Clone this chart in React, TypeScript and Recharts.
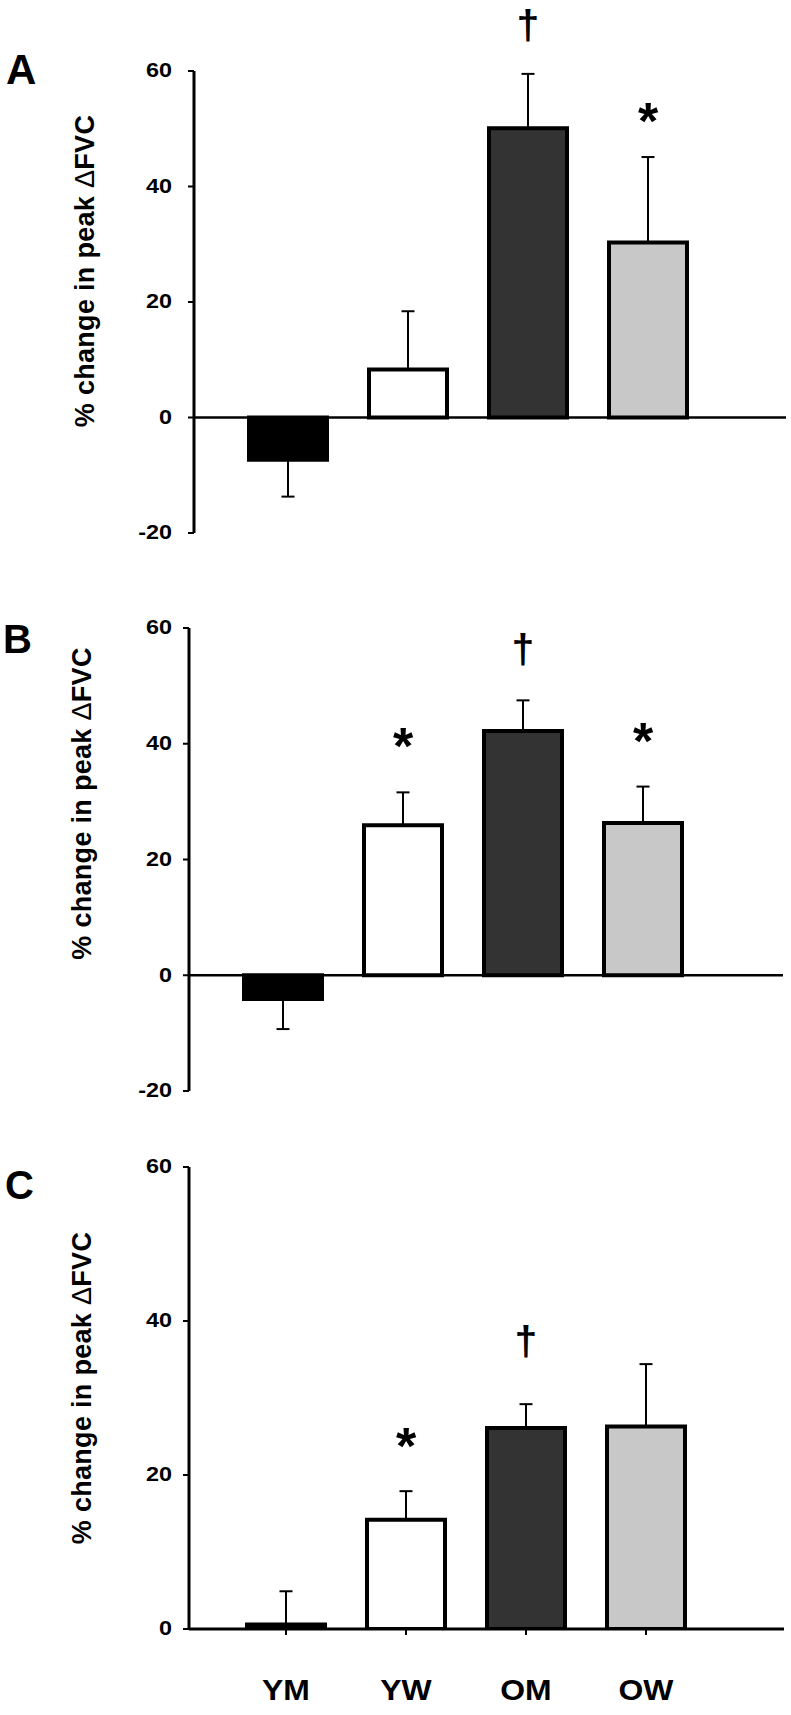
import React from 'react';
import {
  ComposedChart,
  Bar,
  Cell,
  Line,
  XAxis,
  YAxis,
  ErrorBar,
  LabelList,
  ReferenceLine,
} from 'recharts';

const FONT = '"Liberation Sans", Arial, Helvetica, sans-serif';

// groups and fills shared by all three panels
const groups = ['YM', 'YW', 'OM', 'OW'];
const fills = ['#000000', '#ffffff', '#333333', '#c8c8c8'];

// panel A
const meanA = [-7.3, 8.3, 50.1, 30.3];
const errA = [6.4, 10.1, 9.4, 14.8];
const sigA = ['', '', '†', '*'];

// panel B
const meanB = [-4.1, 25.9, 42.2, 26.3];
const errB = [5.2, 5.7, 5.3, 6.3];
const sigB = ['', '*', '†', '*'];

// panel C
const meanC = [0.6, 14.2, 26.1, 26.3];
const errC = [4.3, 3.7, 3.1, 8.1];
const sigC = ['', '*', '†', ''];

const ticksAB = [-20, 0, 20, 40, 60];
const ticksC = [0, 20, 40, 60];

const buildRows = (mean: number[], err: number[], sig: string[]) =>
  groups.map((g, i) => ({
    group: g,
    mean: mean[i],
    // one-sided error bars, pointing away from zero
    err: mean[i] < 0 ? [err[i], 0] : [0, err[i]],
    top: mean[i] < 0 ? null : mean[i] + err[i],
    sig: sig[i],
  }));

const YTick = (props: any) => {
  const { x, y, payload } = props;
  return (
    <text
      transform={`translate(${x},${y}) scale(1.2,1)`}
      textAnchor="end"
      dominantBaseline="central"
      fontSize={19.5}
      fontWeight={700}
      fontFamily={FONT}
      fill="#000"
    >
      {payload.value}
    </text>
  );
};

const XTick = (props: any) => {
  const { x, y, payload } = props;
  return (
    <text
      transform={`translate(${x},${y + 9}) scale(1.1,1)`}
      textAnchor="middle"
      dy="0.72em"
      fontSize={29}
      fontWeight={700}
      fontFamily={FONT}
      fill="#000"
    >
      {payload.value}
    </text>
  );
};

// significance marks sit a fixed gap above the error bar tip
const markContent = (gapDagger: number, gapStar: number) => (props: any) => {
  const { x, y, value } = props;
  if (!value || y == null) return null;
  const dagger = value === '†';
  const size = dagger ? 41 : 52;
  const cy = y - (dagger ? gapDagger : gapStar);
  const base = dagger ? cy + 0.3 * size : cy + 0.56 * size;
  return (
    <text x={x} y={base} textAnchor="middle" fontSize={size} fontWeight={700} fontFamily={FONT} fill="#000">
      {value}
    </text>
  );
};

const yLabel = (bx: number, shift: number) => (props: any) => {
  const { viewBox } = props;
  const cy = viewBox.y + viewBox.height / 2 + shift;
  return (
    <text
      x={bx}
      y={cy}
      transform={`rotate(-90, ${bx}, ${cy})`}
      textAnchor="middle"
      fontSize={27}
      letterSpacing={0.3}
      fontWeight={700}
      fontFamily={FONT}
      fill="#000"
    >
      % change in peak <tspan fontWeight={400}>Δ</tspan>FVC
    </text>
  );
};

interface PanelProps {
  rows: ReturnType<typeof buildRows>;
  top: number;
  height: number;
  margin: { top: number; right: number; bottom: number; left: number };
  axisWidth: number;
  padding: { left: number; right: number };
  domain: [number, number];
  ticks: number[];
  tickMargin: number;
  showX: boolean;
  xHeight?: number;
  labelX: number;
  labelShift: number;
  gapDagger: number;
  gapStar: number;
}

const Panel: React.FC<PanelProps> = (p) => (
  <div style={{ position: 'absolute', left: 0, top: p.top }}>
    <ComposedChart width={791} height={p.height} data={p.rows} margin={p.margin}>
      <XAxis
        dataKey="group"
        type="category"
        hide={!p.showX}
        height={p.xHeight ?? 30}
        padding={p.padding}
        interval={0}
        axisLine={{ stroke: '#000', strokeWidth: 3 }}
        tickLine={{ stroke: '#000', strokeWidth: 2 }}
        tickSize={6}
        tickMargin={35}
        tick={XTick}
      />
      <YAxis
        type="number"
        domain={p.domain}
        ticks={p.ticks}
        allowDataOverflow
        interval={0}
        width={p.axisWidth}
        axisLine={{ stroke: '#000', strokeWidth: 3 }}
        tickLine={{ stroke: '#000', strokeWidth: 2 }}
        tickSize={6}
        tickMargin={p.tickMargin}
        tick={YTick}
        label={yLabel(p.labelX, p.labelShift)}
      />
      {!p.showX && <ReferenceLine y={0} stroke="#000" strokeWidth={2.5} />}
      <Bar dataKey="mean" barSize={78} stroke="#000" strokeWidth={4} isAnimationActive={false}>
        {p.rows.map((r, i) => (
          <Cell key={r.group} fill={fills[i]} />
        ))}
        <ErrorBar dataKey="err" direction="y" width={6.5} stroke="#000" strokeWidth={2} />
      </Bar>
      <Line
        dataKey="top"
        stroke="none"
        dot={false}
        activeDot={false}
        isAnimationActive={false}
        legendType="none"
      >
        <LabelList dataKey="sig" content={markContent(p.gapDagger, p.gapStar)} />
      </Line>
    </ComposedChart>
  </div>
);

export default function App() {
  const rowsA = buildRows(meanA, errA, sigA);
  const rowsB = buildRows(meanB, errB, sigB);
  const rowsC = buildRows(meanC, errC, sigC);

  const letterStyle = { fontWeight: 700, fontFamily: FONT } as const;

  return (
    <div style={{ position: 'relative', width: 791, height: 1715, background: '#fff', overflow: 'hidden' }}>
      <style>{'body{margin:0}'}</style>
      <Panel
        rows={rowsA}
        top={0}
        height={560}
        margin={{ top: 71, right: 5, bottom: 27, left: 0 }}
        axisWidth={194}
        padding={{ left: 34, right: 78 }}
        domain={[-20, 60]}
        ticks={ticksAB}
        tickMargin={16}
        showX={false}
        labelX={94}
        labelShift={-31}
        gapDagger={47}
        gapStar={47}
      />
      <Panel
        rows={rowsB}
        top={560}
        height={555}
        margin={{ top: 68, right: 8, bottom: 24, left: 0 }}
        axisWidth={189}
        padding={{ left: 34, right: 80 }}
        domain={[-20, 60]}
        ticks={ticksAB}
        tickMargin={11}
        showX={false}
        labelX={91}
        labelShift={-56}
        gapDagger={50}
        gapStar={57}
      />
      <Panel
        rows={rowsC}
        top={1120}
        height={595}
        margin={{ top: 47, right: 7, bottom: 0, left: 0 }}
        axisWidth={189}
        padding={{ left: 37, right: 78 }}
        domain={[0, 60]}
        ticks={ticksC}
        tickMargin={11}
        showX={true}
        xHeight={86}
        labelX={91}
        labelShift={-10}
        gapDagger={61}
        gapStar={56}
      />
      <svg width={791} height={1715} style={{ position: 'absolute', left: 0, top: 0, pointerEvents: 'none' }}>
        <text x={6} y={84} fontSize={42} {...letterStyle}>A</text>
        <text x={3} y={653} fontSize={40} {...letterStyle}>B</text>
        <text x={5} y={1199} fontSize={40} {...letterStyle}>C</text>
      </svg>
    </div>
  );
}
